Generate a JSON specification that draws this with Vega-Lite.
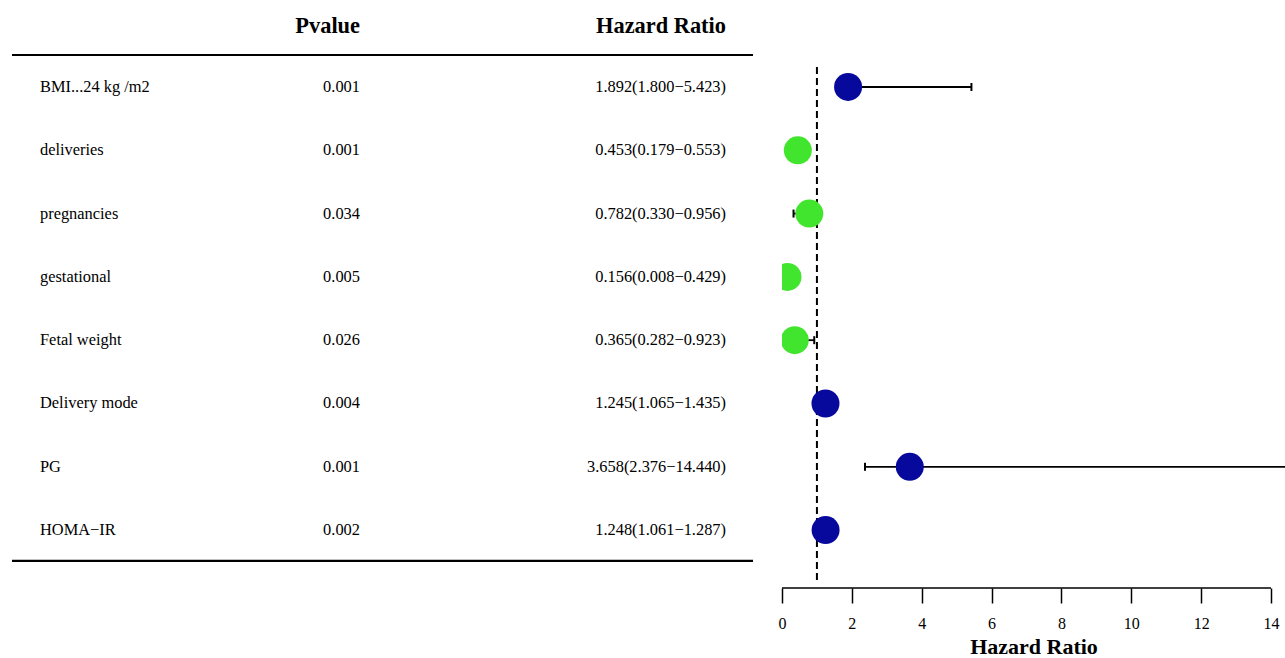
{
  "$schema": "https://vega.github.io/schema/vega-lite/v6.json",
  "padding": 0,
  "spacing": 0,
  "bounds": "flush",
  "background": "white",
  "config": {
    "view": {"stroke": null},
    "font": "Liberation Serif",
    "axisX": {
      "format": "d",
      "domain": false,
      "grid": false,
      "ticks": true,
      "tickSize": 15,
      "tickWidth": 1.5,
      "tickColor": "black",
      "labelFont": "Liberation Serif",
      "labelFontSize": 16,
      "labelColor": "black",
      "labelPadding": 12,
      "labelFlush": false,
      "labelOverlap": false,
      "titleFont": "Liberation Serif",
      "titleFontSize": 22,
      "titleFontWeight": "bold",
      "titleColor": "black",
      "titlePadding": 5
    }
  },
  "data": {
    "values": [
      {"variable": "BMI...24 kg /m2", "pvalue": "0.001", "hr": 1.892, "lower": 1.8, "upper": 5.423, "hr_label": "1.892(1.800−5.423)"},
      {"variable": "deliveries", "pvalue": "0.001", "hr": 0.453, "lower": 0.179, "upper": 0.553, "hr_label": "0.453(0.179−0.553)"},
      {"variable": "pregnancies", "pvalue": "0.034", "hr": 0.782, "lower": 0.33, "upper": 0.956, "hr_label": "0.782(0.330−0.956)"},
      {"variable": "gestational", "pvalue": "0.005", "hr": 0.156, "lower": 0.008, "upper": 0.429, "hr_label": "0.156(0.008−0.429)"},
      {"variable": "Fetal weight", "pvalue": "0.026", "hr": 0.365, "lower": 0.282, "upper": 0.923, "hr_label": "0.365(0.282−0.923)"},
      {"variable": "Delivery mode", "pvalue": "0.004", "hr": 1.245, "lower": 1.065, "upper": 1.435, "hr_label": "1.245(1.065−1.435)"},
      {"variable": "PG", "pvalue": "0.001", "hr": 3.658, "lower": 2.376, "upper": 14.44, "hr_label": "3.658(2.376−14.440)"},
      {"variable": "HOMA−IR", "pvalue": "0.002", "hr": 1.248, "lower": 1.061, "upper": 1.287, "hr_label": "1.248(1.061−1.287)"}
    ]
  },
  "hconcat": [
    {
      "width": 782,
      "height": 588,
      "transform": [{"window": [{"op": "row_number", "as": "row"}]}],
      "layer": [
        {
          "data": {"values": [{}]},
          "mark": {"type": "rule", "color": "black", "strokeWidth": 2.2},
          "encoding": {
            "x": {"datum": 0.01535, "type": "quantitative", "scale": {"domain": [0, 1], "nice": false, "zero": false}, "axis": null},
            "x2": {"datum": 0.96292},
            "y": {"datum": 0.4945, "type": "quantitative", "scale": {"domain": [-0.374, 8.915], "reverse": true, "nice": false, "zero": false}, "axis": null}
          }
        },
        {
          "data": {"values": [{}]},
          "mark": {"type": "rule", "color": "black", "strokeWidth": 2.2},
          "encoding": {
            "x": {"datum": 0.01535, "type": "quantitative", "scale": {"domain": [0, 1], "nice": false, "zero": false}, "axis": null},
            "x2": {"datum": 0.96292},
            "y": {"datum": 8.488, "type": "quantitative", "scale": {"domain": [-0.374, 8.915], "reverse": true, "nice": false, "zero": false}, "axis": null}
          }
        },
        {
          "data": {"values": [{}]},
          "mark": {"type": "text", "font": "Liberation Serif", "fontSize": 22.4, "fontWeight": "bold", "align": "right", "baseline": "alphabetic", "color": "black"},
          "encoding": {
            "x": {"datum": 0.46036, "type": "quantitative", "scale": {"domain": [0, 1], "nice": false, "zero": false}, "axis": null},
            "y": {"datum": 0.147, "type": "quantitative", "scale": {"domain": [-0.374, 8.915], "reverse": true, "nice": false, "zero": false}, "axis": null},
            "text": {"value": "Pvalue"}
          }
        },
        {
          "data": {"values": [{}]},
          "mark": {"type": "text", "font": "Liberation Serif", "fontSize": 22.4, "fontWeight": "bold", "align": "right", "baseline": "alphabetic", "color": "black"},
          "encoding": {
            "x": {"datum": 0.92839, "type": "quantitative", "scale": {"domain": [0, 1], "nice": false, "zero": false}, "axis": null},
            "y": {"datum": 0.147, "type": "quantitative", "scale": {"domain": [-0.374, 8.915], "reverse": true, "nice": false, "zero": false}, "axis": null},
            "text": {"value": "Hazard Ratio"}
          }
        },
        {
          "mark": {"type": "text", "font": "Liberation Serif", "fontSize": 16.4, "align": "left", "baseline": "middle", "color": "black"},
          "encoding": {
            "x": {"datum": 0.05115, "type": "quantitative", "scale": {"domain": [0, 1], "nice": false, "zero": false}, "axis": null},
            "y": {"field": "row", "type": "quantitative", "scale": {"domain": [-0.374, 8.915], "reverse": true, "nice": false, "zero": false}, "axis": null},
            "text": {"field": "variable"}
          }
        },
        {
          "mark": {"type": "text", "font": "Liberation Serif", "fontSize": 16.4, "align": "right", "baseline": "middle", "color": "black"},
          "encoding": {
            "x": {"datum": 0.46036, "type": "quantitative", "scale": {"domain": [0, 1], "nice": false, "zero": false}, "axis": null},
            "y": {"field": "row", "type": "quantitative", "scale": {"domain": [-0.374, 8.915], "reverse": true, "nice": false, "zero": false}, "axis": null},
            "text": {"field": "pvalue"}
          }
        },
        {
          "mark": {"type": "text", "font": "Liberation Serif", "fontSize": 16.4, "align": "right", "baseline": "middle", "color": "black"},
          "encoding": {
            "x": {"datum": 0.92839, "type": "quantitative", "scale": {"domain": [0, 1], "nice": false, "zero": false}, "axis": null},
            "y": {"field": "row", "type": "quantitative", "scale": {"domain": [-0.374, 8.915], "reverse": true, "nice": false, "zero": false}, "axis": null},
            "text": {"field": "hr_label"}
          }
        }
      ]
    },
    {
      "width": 503,
      "height": 588,
      "transform": [{"window": [{"op": "row_number", "as": "row"}]}],
      "layer": [
        {
          "data": {"values": [{"reference_hr": 1}]},
          "mark": {"type": "rule", "color": "black", "strokeWidth": 2, "strokeDash": [7, 4]},
          "encoding": {
            "x": {"field": "reference_hr", "type": "quantitative", "scale": {"domain": [0, 14.4], "nice": false, "zero": false}, "axis": {"title": "Hazard Ratio", "values": [0, 2, 4, 6, 8, 10, 12, 14]}},
            "y": {"datum": 0.684, "type": "quantitative", "scale": {"domain": [-0.374, 8.915], "reverse": true, "nice": false, "zero": false}, "axis": null},
            "y2": {"datum": 8.79}
          }
        },
        {
          "data": {"values": [{}]},
          "mark": {"type": "rule", "color": "black", "strokeWidth": 1.5},
          "encoding": {
            "x": {"datum": 0, "type": "quantitative", "scale": {"domain": [0, 14.4], "nice": false, "zero": false}, "axis": {"title": "Hazard Ratio", "values": [0, 2, 4, 6, 8, 10, 12, 14]}},
            "x2": {"datum": 14},
            "y": {"datum": 8.915, "type": "quantitative", "scale": {"domain": [-0.374, 8.915], "reverse": true, "nice": false, "zero": false}, "axis": null}
          }
        },
        {
          "mark": {"type": "rule", "color": "black", "strokeWidth": 1.8, "clip": true},
          "encoding": {
            "x": {"field": "lower", "type": "quantitative", "scale": {"domain": [0, 14.4], "nice": false, "zero": false}, "axis": {"title": "Hazard Ratio", "values": [0, 2, 4, 6, 8, 10, 12, 14]}},
            "x2": {"field": "upper"},
            "y": {"field": "row", "type": "quantitative", "scale": {"domain": [-0.374, 8.915], "reverse": true, "nice": false, "zero": false}, "axis": null}
          }
        },
        {
          "mark": {"type": "tick", "color": "black", "thickness": 2, "size": 8, "orient": "vertical", "clip": true, "opacity": 1},
          "encoding": {
            "x": {"field": "lower", "type": "quantitative", "scale": {"domain": [0, 14.4], "nice": false, "zero": false}, "axis": {"title": "Hazard Ratio", "values": [0, 2, 4, 6, 8, 10, 12, 14]}},
            "y": {"field": "row", "type": "quantitative", "scale": {"domain": [-0.374, 8.915], "reverse": true, "nice": false, "zero": false}, "axis": null}
          }
        },
        {
          "mark": {"type": "tick", "color": "black", "thickness": 2, "size": 8, "orient": "vertical", "clip": true, "opacity": 1},
          "encoding": {
            "x": {"field": "upper", "type": "quantitative", "scale": {"domain": [0, 14.4], "nice": false, "zero": false}, "axis": {"title": "Hazard Ratio", "values": [0, 2, 4, 6, 8, 10, 12, 14]}},
            "y": {"field": "row", "type": "quantitative", "scale": {"domain": [-0.374, 8.915], "reverse": true, "nice": false, "zero": false}, "axis": null}
          }
        },
        {
          "mark": {"type": "circle", "size": 784, "opacity": 1, "clip": true},
          "encoding": {
            "x": {"field": "hr", "type": "quantitative", "scale": {"domain": [0, 14.4], "nice": false, "zero": false}, "axis": {"title": "Hazard Ratio", "values": [0, 2, 4, 6, 8, 10, 12, 14]}},
            "y": {"field": "row", "type": "quantitative", "scale": {"domain": [-0.374, 8.915], "reverse": true, "nice": false, "zero": false}, "axis": null},
            "color": {"condition": {"test": "datum.hr > 1", "value": "#07099C"}, "value": "#42E52D"}
          }
        }
      ]
    }
  ]
}
